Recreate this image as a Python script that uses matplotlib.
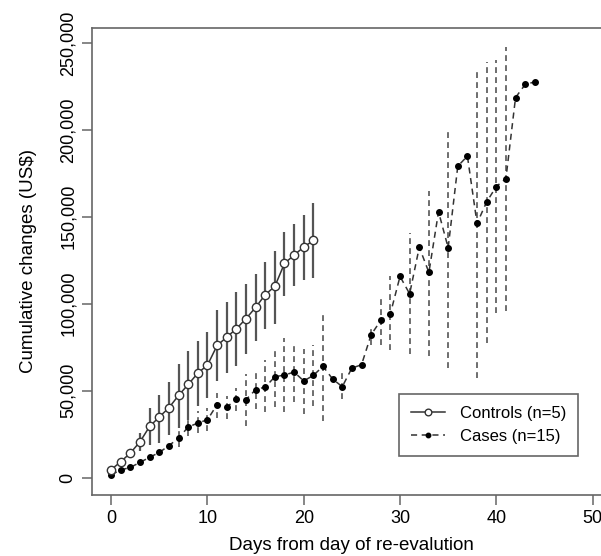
import numpy as np
import matplotlib
matplotlib.use("Agg")
import matplotlib.pyplot as plt
from matplotlib.ticker import FuncFormatter

nan = np.nan

# controls (n=5), days 0..21
ctrl_days = list(range(22))
ctrl_mean = [4600, 9200, 14200, 20700, 29500, 34900, 40200, 47300, 53600, 60100, 64700,
             76000, 80800, 85600, 91400, 97900, 105200, 110000, 123200, 128000, 132600, 136400]
ctrl_hi = [nan, nan, nan, 25800, 40000, 47500, 54800, 65500, 73000, 78600, 83700,
           96600, 101100, 106900, 111500, 116900, 124100, 130500, 141000, 145600, 150800, 158200]
ctrl_lo = [nan, nan, nan, 15100, 19000, 20000, 24700, 28600, 33300, 41000, 45800,
           55400, 60200, 64000, 71300, 78700, 85600, 88300, 104600, 110000, 113800, 114800]

# cases (n=15), days 0..44
case_days = list(range(45))
case_mean = [1700, 4400, 5900, 8800, 11700, 14500, 18400, 22800, 29100, 31400, 33300,
             42000, 40600, 45000, 44800, 50600, 52100, 58000, 59000, 60700, 55600,
             58800, 64000, 56700, 52300, 63000, 64900, 82200, 90400, 94300, 115700,
             105700, 132500, 118000, 152900, 132200, 179100, 184900, 146200, 158600,
             167400, 172000, 218600, 226100, 227600]
case_hi = [nan, nan, nan, nan, nan, nan, nan, 28000, 34000, 38100, 40100,
           48700, 46700, 51500, 59800, 61500, 67400, 75100, 80300, 77800, 74000,
           76400, 95200, nan, 61100, nan, nan, 87900, 104600, 116100, nan,
           140600, nan, 165100, nan, 201000, nan, nan, 234900, 239300,
           240200, 247900, nan, nan, nan]
case_lo = [nan, nan, nan, nan, nan, nan, nan, 17500, 24000, 25700, 26600,
           34300, 33700, 38100, 29500, 39500, 37500, 40600, 37500, 43300, 36800,
           41000, 32400, nan, 45000, nan, nan, 76400, 76400, 73400, nan,
           71300, nan, 70100, nan, 63000, nan, nan, 57300, 77400,
           94600, 95600, nan, nan, nan]

plt.rcParams['font.family'] = ['Liberation Sans', 'DejaVu Sans']
plt.rcParams['font.size'] = 13

fig = plt.figure(figsize=(6.01, 5.56), dpi=100)
ax = fig.add_axes([0.153, 0.1097, 0.865, 0.84])

edge = '#666666'
ink = '#333333'

# error bars
ch = np.array(ctrl_hi); cl = np.array(ctrl_lo)
m = ~np.isnan(ch)
ax.vlines(np.array(ctrl_days)[m], cl[m], ch[m], colors='#555555', linewidth=1.6)
kh = np.array(case_hi); kl = np.array(case_lo)
m = ~np.isnan(kh)
ax.vlines(np.array(case_days)[m], kl[m], kh[m], colors='#555555', linewidth=1.2,
          linestyles=(0, (3.5, 2.5)))

ax.plot(case_days, case_mean, color=ink, linestyle=(0, (4, 3)), linewidth=1.1,
        marker='o', markersize=4, markerfacecolor='black', markeredgecolor='black',
        label='Cases (n=15)')
ax.plot(ctrl_days, ctrl_mean, color=ink, linestyle='-', linewidth=1.1,
        marker='o', markersize=6, markerfacecolor='white', markeredgecolor=ink,
        markeredgewidth=1.0, label='Controls (n=5)')

ax.set_xlim(-2, 52)
ax.set_ylim(-10000, 258600)
ax.set_xticks([0, 10, 20, 30, 40, 50])
ax.set_yticks([0, 50000, 100000, 150000, 200000, 250000])
ax.yaxis.set_major_formatter(FuncFormatter(lambda v, p: f"{int(v):,}"))
for lab in ax.get_yticklabels():
    lab.set_rotation(90)
    lab.set_va('center')

for s in ax.spines.values():
    s.set_color(edge)
    s.set_linewidth(1.2)
ax.tick_params(direction='out', length=7, width=1.1, color=edge, labelsize=13, pad=4)

ax.set_xlabel('Days from day of re-evalution', fontsize=13.5, labelpad=7)
ax.set_ylabel('Cumulative changes (US$)', fontsize=13.5, labelpad=16)

h, l = ax.get_legend_handles_labels()
leg = ax.legend(h[::-1], l[::-1], loc='lower left', bbox_to_anchor=(0.59, 0.0835),
                borderaxespad=0, fancybox=False, edgecolor=edge, framealpha=1,
                handlelength=2.0, handletextpad=0.9, fontsize=12,
                borderpad=0.75, labelspacing=0.45, markerscale=0.8)
leg.get_frame().set_linewidth(1.2)

fig.savefig('out.png', dpi=100)
